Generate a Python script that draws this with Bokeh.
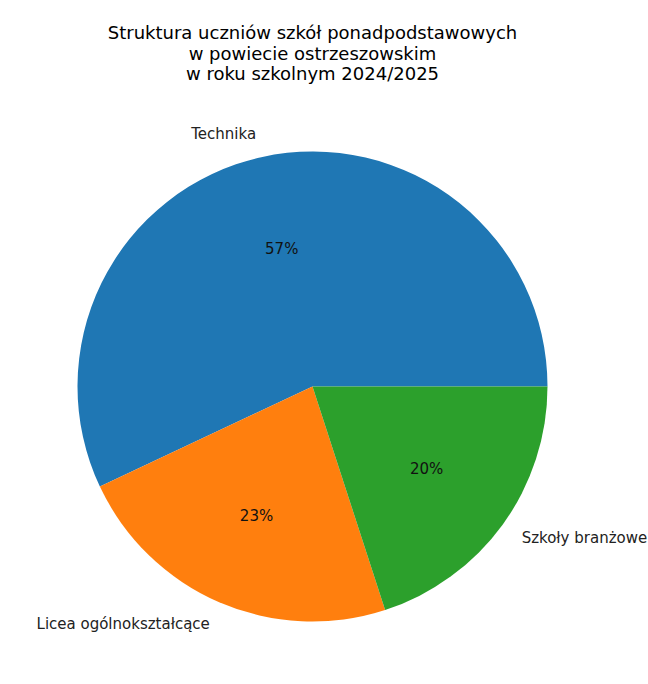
import math
from bokeh.plotting import figure
from bokeh.models import Range1d
from bokeh.core.properties import value
from bokeh.embed import file_html
from bokeh.resources import INLINE

# Data
categories = ["Technika", "Licea ogólnokształcące", "Szkoły branżowe"]
shares = [57, 23, 20]
colors = ["#1f77b4", "#ff7f0e", "#2ca02c"]
title_lines = ["Struktura uczniów szkół ponadpodstawowych",
               "w powiecie ostrzeszowskim",
               "w roku szkolnym 2024/2025"]

W, H = 648, 684
p = figure(width=W, height=H, output_backend="svg", toolbar_location=None,
           x_range=Range1d(0, W), y_range=Range1d(0, H),
           min_border=0, outline_line_color=None)
p.axis.visible = False
p.grid.visible = False
p.background_fill_color = "white"

cx, cy, r = 312, H - 386, 235
total = float(sum(shares))
starts, ends = [], []
a = 0.0
for s in shares:
    starts.append(a)
    a += 2 * math.pi * s / total
    ends.append(a)

p.wedge(x=[cx] * 3, y=[cy] * 3, radius=r, start_angle=starts, end_angle=ends,
        fill_color=colors, line_color=None)

font = value("DejaVu Sans")
for cat, s, a0, a1 in zip(categories, shares, starts, ends):
    mid = (a0 + a1) / 2
    lx = cx + 1.1 * r * math.cos(mid)
    ly = cy + 1.1 * r * math.sin(mid)
    align = "left" if math.cos(mid) >= 0 else "right"
    p.text(x=[lx], y=[ly], text=[cat], text_font=font, text_font_size="15px",
           text_align=align, text_baseline="middle", text_color="#222222")
    px = cx + 0.6 * r * math.cos(mid)
    py = cy + 0.6 * r * math.sin(mid)
    p.text(x=[px], y=[py], text=[f"{s:.0f}%"], text_font=font, text_font_size="15px",
           text_align="center", text_baseline="middle", text_color="#111111")

for i, line in enumerate(title_lines):
    p.text(x=[312], y=[H - (32 + 20.5 * i)], text=[line], text_font=font,
           text_font_size="18px", text_align="center", text_baseline="middle",
           text_color="black")

open("out.html", "w").write(file_html(p, INLINE))
